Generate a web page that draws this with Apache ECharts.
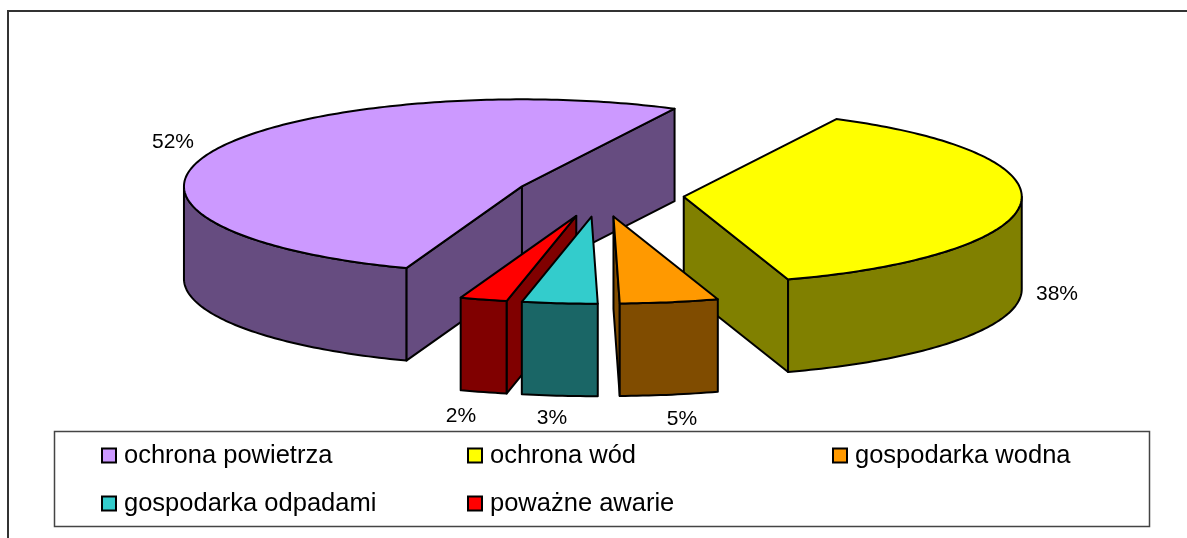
<!DOCTYPE html>
<html>
<head>
<meta charset="utf-8">
<style>html,body{margin:0;padding:0;background:#fff}#c{width:1187px;height:538px}</style>
<script src="https://cdn.jsdelivr.net/npm/echarts@6/dist/echarts.min.js"></script>
</head>
<body>
<div id="c"></div>
<script>
const categories = ['ochrona powietrza','ochrona wód','gospodarka wodna','gospodarka odpadami','poważne awarie'];
const values = [51.9, 37.55, 4.7, 3.6, 2.25];
const percentLabels = ['52%','38%','5%','3%','2%'];
const topColors = ['#CC99FF','#FFFF00','#FF9900','#33CCCC','#FF0000'];
const sideColors = ['#664C80','#808000','#804C00','#1A6666','#800000'];
const paintOrder = [0,1,2,4,3];
const labelAnchors = [[173,142],[1057,294],[682,419],[552,418],[461,416]];

const CX = 599.5, CY = 195, RX = 338, RY = 87, DEPTH = 92.5, EXPLODE = 0.25, START = 200;
const FONT = 'Liberation Sans, Arial, sans-serif';
const total = values.reduce((a,b)=>a+b,0);
const rad = d => d*Math.PI/180;

let acc = START;
const spans = values.map(v => { const s = acc; acc += v/total*360; return [s, acc]; });

function slice(i){
  const [a0,a1] = spans[i];
  const mid = (a0+a1)/2;
  const ox = CX + EXPLODE*RX*Math.sin(rad(mid));
  const oy = CY - EXPLODE*RY*Math.cos(rad(mid));
  const pt = (a,d=0) => [ox+RX*Math.sin(rad(a)), oy-RY*Math.cos(rad(a))+d];
  const arc = [];
  for(let a=a0; a<a1; a+=1) arc.push(pt(a));
  arc.push(pt(a1));
  const line = {stroke:'#000', lineWidth:2, lineJoin:'round', fill:sideColors[i]};
  const els = [];
  const wall = a => ({type:'polygon', shape:{points:[[ox,oy],pt(a),pt(a,DEPTH),[ox,oy+DEPTH]]}, style:line});
  // inner cut faces, visible only when they turn toward the viewer
  if(Math.sin(rad(a0))<0) els.push(wall(a0));
  if(Math.sin(rad(a1))>0) els.push(wall(a1));
  // outer rim: only the part in the front half of the ellipse
  const base = a0>=360 ? 360 : 0;
  const f0 = Math.max(a0,90+base), f1 = Math.min(a1,270+base);
  if(f1>f0){
    const up=[], down=[];
    for(let a=f0;a<f1;a+=1){up.push(pt(a));down.push(pt(a,DEPTH));}
    up.push(pt(f1));down.push(pt(f1,DEPTH));
    els.push({type:'polygon', shape:{points:up.concat(down.reverse())}, style:line});
  }
  els.push({type:'polygon', shape:{points:[[ox,oy]].concat(arc)}, style:{fill:topColors[i],stroke:'#000',lineWidth:2,lineJoin:'round'}});
  els.push({type:'text', style:{x:labelAnchors[i][0],y:labelAnchors[i][1],text:percentLabels[i],fill:'#000',
    font:'21px '+FONT,align:'center',verticalAlign:'middle'}});
  return {type:'group',children:els};
}

const series = categories.map((name,i)=>({
  type:'custom', name, coordinateSystem:'none', silent:true, z:2+paintOrder.indexOf(i),
  itemStyle:{color:topColors[i]},
  data:[[values[i]]],
  renderItem:()=>slice(i)
}));

const legendBase = {orient:'vertical', selectedMode:false, icon:'rect', itemWidth:14, itemHeight:14,
  itemGap:21, padding:0, align:'left',
  itemStyle:{borderColor:'#000',borderWidth:2},
  textStyle:{fontFamily:FONT,fontSize:25.5,color:'#000',padding:[3,0,0,3],lineHeight:24}};

const option = {
  animation:false,
  backgroundColor:'#fff',
  graphic:[
    {type:'line',shape:{x1:7,y1:11,x2:1187,y2:11},style:{stroke:'#333',lineWidth:2},z:0},
    {type:'line',shape:{x1:8,y1:10,x2:8,y2:538},style:{stroke:'#333',lineWidth:2},z:0},
    {type:'rect',shape:{x:54.5,y:431.5,width:1095,height:95},style:{fill:'#fff',stroke:'#444',lineWidth:1.5},z:0}
  ],
  legend:[
    {...legendBase,left:101,top:442,data:[categories[0],categories[3]]},
    {...legendBase,left:467,top:442,data:[categories[1],categories[4]]},
    {...legendBase,left:832,top:442,data:[categories[2]]}
  ],
  series
};
echarts.init(document.getElementById('c'),null,{renderer:'canvas'}).setOption(option);
</script>
</body>
</html>
